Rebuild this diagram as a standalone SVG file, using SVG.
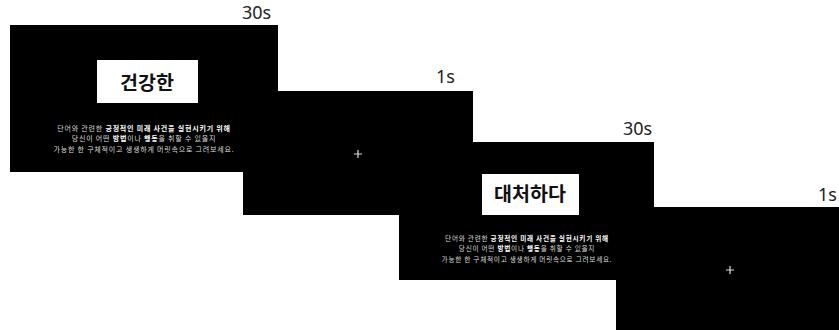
<svg xmlns="http://www.w3.org/2000/svg" width="839" height="330" viewBox="0 0 839 330">
<style>
.slide{fill:#000}
.time{font-family:"Noto Sans","Open Sans",sans-serif;font-size:18px;fill:#222}
.word{font-family:"Noto Sans CJK KR","Noto Sans",sans-serif;font-size:19.5px;font-weight:600;fill:#111;text-anchor:middle}
.instr{font-family:"Noto Sans CJK KR","Noto Sans",sans-serif;font-size:7px;letter-spacing:0.8px;fill:#ddd;text-anchor:middle}
.b{font-weight:bold;fill:#fff}
.cross{stroke:#ddd;stroke-width:1.2}
</style>
<rect width="839" height="330" fill="#fff"/>
<g id="slide4">
<rect class="slide" x="616" y="207" width="223" height="123"/>
<path class="cross" d="M726,270h8M730,266v8"/>
<text class="time" x="818" y="201">1s</text>
</g>
<g id="slide2">
<rect class="slide" x="243" y="91" width="230" height="124"/>
<path class="cross" d="M354,154h8M358,150v8"/>
<text class="time" x="436" y="83">1s</text>
</g>
<g id="slide3">
<rect class="slide" x="399" y="142" width="255" height="138"/>
<rect x="482" y="174" width="97" height="41" fill="#fff"/>
<text class="word" x="530" y="200.5">대처하다</text>
<g transform="translate(527,0) scale(0.945,1)">
<text class="instr" x="0" y="241">단어와 관련한 <tspan class="b">긍정적인 미래 사건을 실현시키기 위해</tspan></text>
<text class="instr" x="0" y="251">당신이 어떤 <tspan class="b">방법</tspan>이나 <tspan class="b">행동</tspan>을 취할 수 있을지</text>
<text class="instr" x="0" y="262">가능한 한 구체적이고 생생하게 머릿속으로 그려보세요.</text>
</g>
<text class="time" x="623" y="135">30s</text>
</g>
<g id="slide1">
<rect class="slide" x="10" y="25" width="268" height="147"/>
<rect x="97" y="60" width="101" height="43" fill="#fff"/>
<text class="word" x="147" y="89.5">건강한</text>
<text class="instr" x="144" y="130.5">단어와 관련한 <tspan class="b">긍정적인 미래 사건을 실현시키기 위해</tspan></text>
<text class="instr" x="144" y="141">당신이 어떤 <tspan class="b">방법</tspan>이나 <tspan class="b">행동</tspan>을 취할 수 있을지</text>
<text class="instr" x="144" y="152">가능한 한 구체적이고 생생하게 머릿속으로 그려보세요.</text>
<text class="time" x="242" y="19">30s</text>
</g>
</svg>
